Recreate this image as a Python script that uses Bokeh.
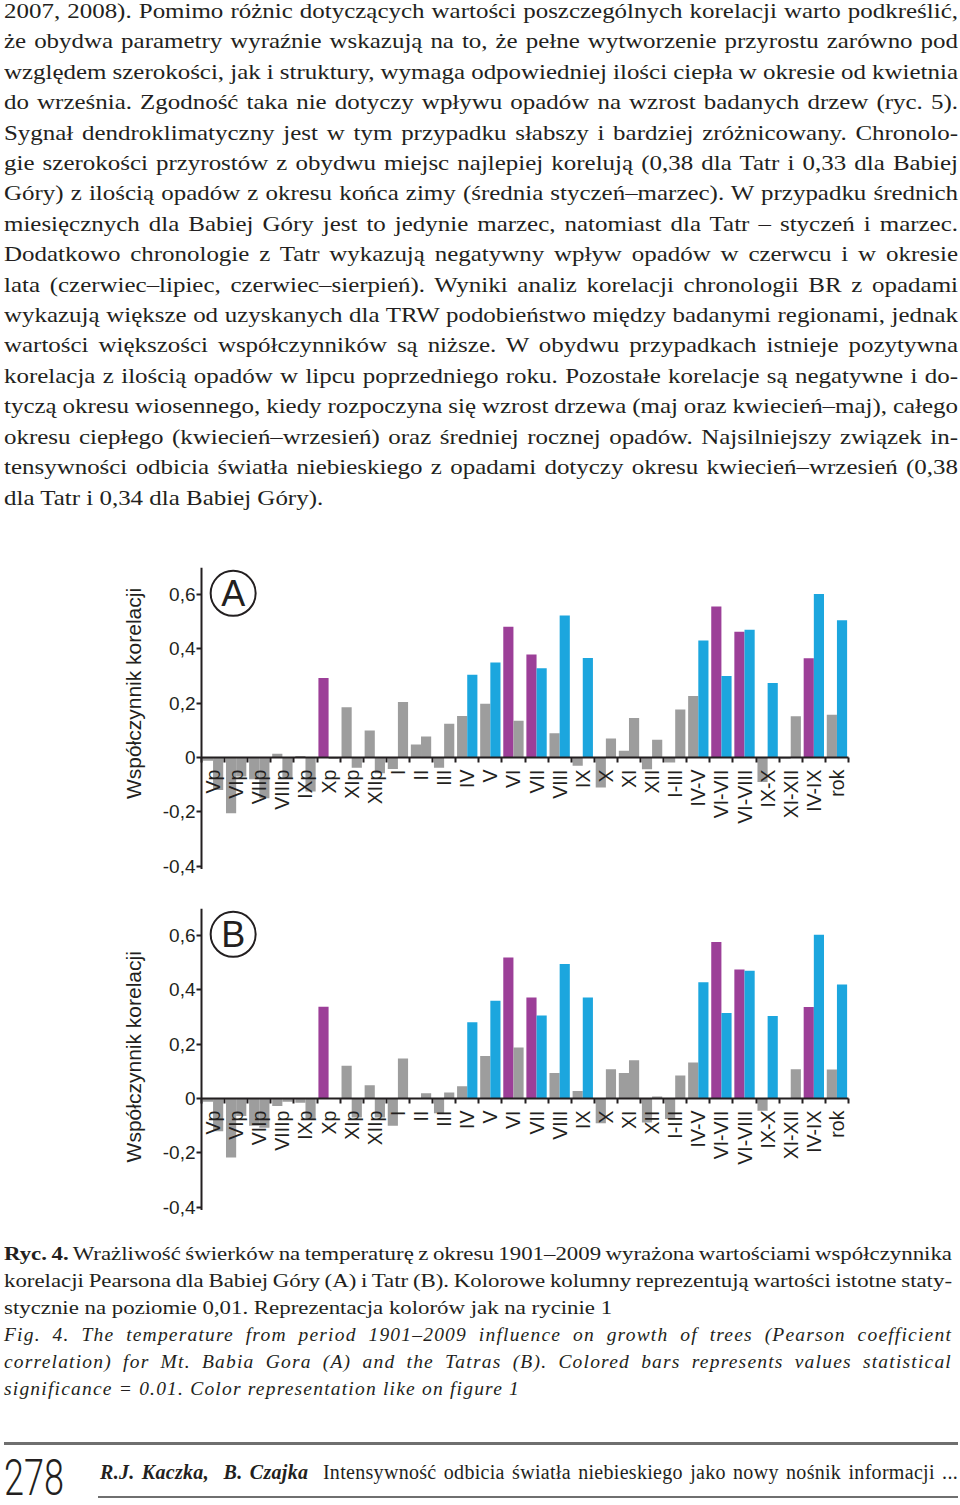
from math import pi
from bokeh.plotting import figure
from bokeh.layouts import column
from bokeh.models import (ColumnDataSource, Div, FixedTicker, LinearAxis,
                          CustomJSTickFormatter, Range1d)
from bokeh.embed import file_html
from bokeh.resources import INLINE
from bokeh.core.properties import value

# ---------------- data ----------------
categories = ["Vp", "VIp", "VIIp", "VIIIp", "IXp", "Xp", "XIp", "XIIp", "I", "II",
              "III", "IV", "V", "VI", "VII", "VIII", "IX", "X", "XI", "XII",
              "I-III", "IV-V", "VI-VII", "VI-VIII", "IX-X", "XI-XII", "IV-IX", "rok"]

# Babia Góra (A): left bar (TRW) and right bar (BR) of every pair
a_trw = [-0.012, -0.205, -0.080, 0.014, 0.006, 0.293, 0.185, 0.100, -0.042, 0.048,
         -0.037, 0.153, 0.198, 0.482, 0.380, 0.090, -0.030, -0.110, 0.025, -0.043,
         -0.018, 0.227, 0.556, 0.463, -0.090, -0.004, 0.366, 0.158]
a_br = [-0.119, -0.070, -0.150, -0.076, -0.125, -0.005, -0.037, -0.058, 0.205, 0.078,
        0.125, 0.305, 0.350, 0.136, 0.329, 0.523, 0.367, 0.070, 0.146, 0.066,
        0.177, 0.431, 0.300, 0.471, 0.275, 0.152, 0.602, 0.506]
a_trw_sig = [0, 0, 0, 0, 0, 1, 0, 0, 0, 0, 0, 0, 0, 1, 1, 0, 0, 0, 0, 0,
             0, 0, 1, 1, 0, 0, 1, 0]
a_br_sig = [0, 0, 0, 0, 0, 0, 0, 0, 0, 0, 0, 1, 1, 0, 1, 1, 1, 0, 0, 0,
            0, 1, 1, 1, 1, 0, 1, 1]

# Tatry (B)
b_trw = [-0.012, -0.217, -0.100, -0.027, -0.015, 0.338, 0.121, 0.049, -0.100, 0.002,
         -0.054, 0.045, 0.157, 0.520, 0.372, 0.094, 0.028, -0.091, 0.094, -0.088,
         -0.075, 0.133, 0.577, 0.475, -0.045, 0.001, 0.337, 0.107]
b_br = [-0.120, -0.064, -0.107, -0.012, -0.076, 0.001, -0.070, -0.070, 0.148, 0.020,
        0.022, 0.281, 0.360, 0.188, 0.306, 0.496, 0.372, 0.108, 0.141, 0.008,
        0.085, 0.428, 0.315, 0.471, 0.304, 0.108, 0.603, 0.420]
b_trw_sig = [0, 0, 0, 0, 0, 1, 0, 0, 0, 0, 0, 0, 0, 1, 1, 0, 0, 0, 0, 0,
             0, 0, 1, 1, 0, 0, 1, 0]
b_br_sig = [0, 0, 0, 0, 0, 0, 0, 0, 0, 0, 0, 1, 1, 0, 1, 1, 1, 0, 0, 0,
            0, 1, 1, 1, 1, 0, 1, 1]

y_ticks = [-0.4, -0.2, 0.0, 0.2, 0.4, 0.6]
y_title = "Współczynnik korelacji"

GREY = "#9d9d9d"
PURPLE = "#9c3f98"
BLUE = "#1ca6de"
INK = "#231f20"
SANS = "Liberation Sans"

# layout (pixels inside each figure)
FIG_W = 944
FRAME_L = 102          # frame left edge inside figure
FRAME_W = 780
AXIS_X0 = 201          # where category 0 starts (y axis) inside figure
AXIS_X1 = 848          # where the last category ends inside figure
Y_LO, Y_HI = -0.46, 0.70   # visible value range of the frame
AX_LO = -0.41              # lower end of the drawn y axis line


def make_chart(letter, trw, br, trw_sig, br_sig, height, top, bottom, title_y):
    n = len(categories)
    idx = list(range(n))
    ppu = (AXIS_X1 - AXIS_X0) / n
    x0 = -(AXIS_X0 - FRAME_L) / ppu
    x1 = n + (FRAME_L + FRAME_W - AXIS_X1) / ppu
    p = figure(width=FIG_W, height=height, x_range=Range1d(x0, x1), y_range=Range1d(Y_LO, Y_HI),
               output_backend="svg", toolbar_location=None,
               x_axis_location=None, y_axis_location=None,
               min_border_left=FRAME_L, min_border_right=FIG_W - FRAME_L - FRAME_W,
               min_border_top=top, min_border_bottom=bottom)
    p.grid.visible = False
    p.outline_line_color = None

    src = ColumnDataSource(dict(
        x1=[i + 0.28 for i in idx], x2=[i + 0.72 for i in idx],
        t1=trw, t2=br,
        c1=[PURPLE if s else GREY for s in trw_sig],
        c2=[BLUE if s else GREY for s in br_sig]))
    p.vbar(x="x1", top="t1", bottom=0, width=0.44, fill_color="c1", line_color=None, source=src)
    p.vbar(x="x2", top="t2", bottom=0, width=0.44, fill_color="c2", line_color=None, source=src)

    # axis lines
    p.segment(x0=[0], x1=[n], y0=[0], y1=[0], line_width=2, line_color=INK)
    p.segment(x0=[0], x1=[0], y0=[AX_LO], y1=[Y_HI], line_width=2, line_color=INK)

    # y axis fixed at x = 0
    ya = LinearAxis(ticker=FixedTicker(ticks=y_ticks, minor_ticks=[]),
                    formatter=CustomJSTickFormatter(code="""
                        if (Math.abs(tick) < 1e-9) return "0";
                        return tick.toFixed(1).replace(".", ",");"""),
                    fixed_location=0, axis_line_color=None,
                    major_tick_line_width=2, major_tick_line_color=INK,
                    major_tick_out=5, major_tick_in=0, minor_tick_line_color=None,
                    major_label_standoff=1, major_label_text_font_size="19px",
                    major_label_text_font=SANS, major_label_text_color=INK)
    p.add_layout(ya, "left")

    # x axis at y = 0: labels at category centres, ticks at category boundaries
    xl = LinearAxis(ticker=FixedTicker(ticks=[i + 0.5 for i in idx],
                                       minor_ticks=list(range(n + 1))),
                    formatter=CustomJSTickFormatter(args=dict(labels=categories),
                                                    code="return labels[Math.floor(tick)];"),
                    fixed_location=0, axis_line_color=None, major_tick_line_color=None,
                    major_tick_out=0, major_tick_in=0,
                    minor_tick_line_color=INK, minor_tick_line_width=2,
                    minor_tick_out=5, minor_tick_in=0,
                    major_label_orientation=pi / 2, major_label_standoff=7,
                    major_label_text_font_size="19.5px", major_label_text_font=SANS,
                    major_label_text_color=INK)
    p.add_layout(xl, "below")

    # axis title (inside the frame, left of the y axis)
    p.text(x=[-2.95], y=[title_y], text=[y_title], angle=pi / 2,
           text_align="center", text_baseline="middle",
           text_font_size="21px", text_font=value(SANS), text_color=INK)

    p.scatter(x=[1.37], y=[0.605], size=45, marker="circle", fill_color=None,
              line_color=INK, line_width=2)
    p.text(x=[1.37], y=[0.605], text=[letter], text_align="center", text_baseline="middle",
           text_font_size="36px", text_font=value(SANS), text_color=INK)
    return p


# ---------------- text ----------------
body_lines = [
    "2007, 2008). Pomimo różnic dotyczących wartości poszczególnych korelacji warto podkreślić,",
    "że obydwa parametry wyraźnie wskazują na to, że pełne wytworzenie przyrostu zarówno pod",
    "względem szerokości, jak i struktury, wymaga odpowiedniej ilości ciepła w okresie od kwietnia",
    "do września. Zgodność taka nie dotyczy wpływu opadów na wzrost badanych drzew (ryc. 5).",
    "Sygnał dendroklimatyczny jest w tym przypadku słabszy i bardziej zróżnicowany. Chronolo-",
    "gie szerokości przyrostów z obydwu miejsc najlepiej korelują (0,38 dla Tatr i 0,33 dla Babiej",
    "Góry) z ilością opadów z okresu końca zimy (średnia styczeń–marzec). W przypadku średnich",
    "miesięcznych dla Babiej Góry jest to jedynie marzec, natomiast dla Tatr – styczeń i marzec.",
    "Dodatkowo chronologie z Tatr wykazują negatywny wpływ opadów w czerwcu i w okresie",
    "lata (czerwiec–lipiec, czerwiec–sierpień). Wyniki analiz korelacji chronologii BR z opadami",
    "wykazują większe od uzyskanych dla TRW podobieństwo między badanymi regionami, jednak",
    "wartości większości współczynników są niższe. W obydwu przypadkach istnieje pozytywna",
    "korelacja z ilością opadów w lipcu poprzedniego roku. Pozostałe korelacje są negatywne i do-",
    "tyczą okresu wiosennego, kiedy rozpoczyna się wzrost drzewa (maj oraz kwiecień–maj), całego",
    "okresu ciepłego (kwiecień–wrzesień) oraz średniej rocznej opadów. Najsilniejszy związek in-",
    "tensywności odbicia światła niebieskiego z opadami dotyczy okresu kwiecień–wrzesień (0,38",
    "dla Tatr i 0,34 dla Babiej Góry).",
]
caption_pl = [
    "<b>Ryc. 4.</b> Wrażliwość świerków na temperaturę z okresu 1901–2009 wyrażona wartościami współczynnika",
    "korelacji Pearsona dla Babiej Góry (A) i Tatr (B). Kolorowe kolumny reprezentują wartości istotne staty-",
    "stycznie na poziomie 0,01. Reprezentacja kolorów jak na rycinie 1",
]
caption_en = [
    "Fig. 4. The temperature from period 1901–2009 influence on growth of trees (Pearson coefficient",
    "correlation) for Mt. Babia Gora (A) and the Tatras (B). Colored bars represents values statistical",
    "significance = 0.01. Color representation like on figure 1",
]
page_no = "278"
running_authors = "R.J. Kaczka,&nbsp; B. Czajka"
running_title = "Intensywność odbicia światła niebieskiego jako nowy nośnik informacji ..."

J = "text-align:justify;text-align-last:justify;word-spacing:-2px;"


def block(lines, extra=""):
    out = []
    for k, ln in enumerate(lines):
        st = "" if k == len(lines) - 1 else J
        out.append(f'<div style="{st}{extra}">{ln}</div>')
    return "".join(out)


SX = 1.16  # horizontal stretch of the printed serif text
LEFT = -1  # page text starts a little left of the page margin
body_html = (
    f'<div style="position:relative;left:{LEFT}px;top:-9px;width:{954 / SX:.2f}px;'
    f'transform:scaleX({SX});transform-origin:0 0;'
    f'font-family:\'Liberation Serif\';font-size:21.5px;line-height:30.4px;color:{INK};">'
    + block(body_lines) + '</div>')
body_div = Div(text=body_html, width=944, height=532)

foot_html = (
    f'<div style="position:relative;left:{LEFT}px;width:954px;height:261px;color:{INK};'
    f'font-family:\'Liberation Serif\';">'
    f'<div style="position:absolute;top:3px;left:0;width:{948 / SX:.2f}px;font-size:19.7px;'
    f'line-height:27px;transform:scaleX({SX});transform-origin:0 0;">'
    + block(caption_pl) + '</div>'
    '<div style="position:absolute;top:84px;left:0;width:948px;font-size:19.5px;line-height:27px;">'
    + block(caption_en, "font-style:italic;letter-spacing:1.2px;") + '</div>'
    '<div style="position:absolute;top:205px;left:0;width:954px;height:3px;background:#6f6f6f;"></div>'
    f'<div style="position:absolute;top:216px;left:0;font-family:Roboto;font-weight:300;font-size:50px;'
    f'line-height:50px;transform:scaleX(0.72);transform-origin:left top;">{page_no}</div>'
    f'<div style="position:absolute;top:222px;left:96px;width:858px;font-size:20px;line-height:27px;'
    f'letter-spacing:0.3px;{J}">'
    f'<b><i>{running_authors}</i></b>&nbsp; {running_title}</div>'
    '<div style="position:absolute;top:259px;left:94px;width:860px;height:2px;background:#6f6f6f;"></div>'
    '</div>')
foot_div = Div(text=foot_html, width=944, height=261)

chart_a = make_chart("A", a_trw, a_br, a_trw_sig, a_br_sig, 350, 25, 10, 0.236)
chart_b = make_chart("B", b_trw, b_br, b_trw_sig, b_br_sig, 340, 16, 9, 0.154)

page = column(body_div, chart_a, chart_b, foot_div, spacing=0)
open("out.html", "w").write(file_html(page, INLINE, "Ryc. 4"))
